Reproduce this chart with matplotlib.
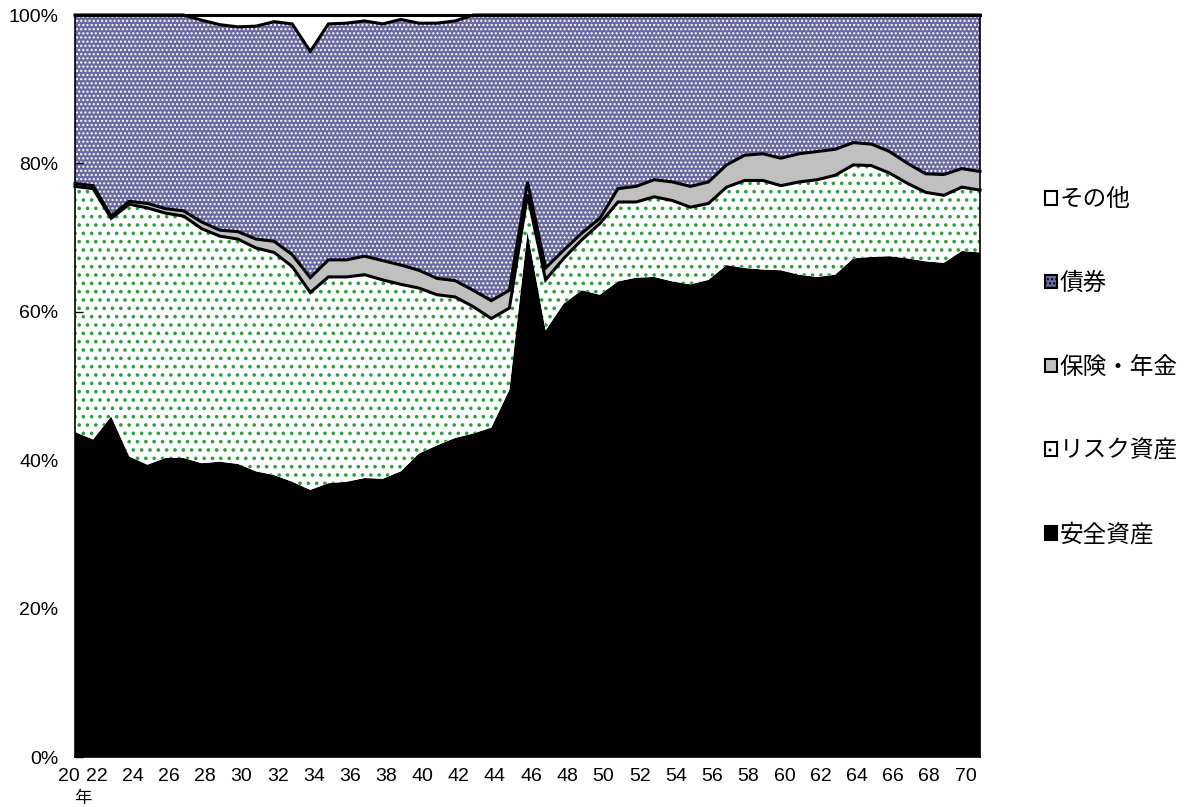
import numpy as np
import matplotlib
matplotlib.use("Agg")
import matplotlib.pyplot as plt
import matplotlib.transforms as mtransforms
from matplotlib.patches import Patch

plt.rcParams['font.family'] = ['Liberation Sans', 'Noto Sans CJK JP', 'DejaVu Sans']
plt.rcParams['hatch.linewidth'] = 1.0

# Years (20 = 1920 ... 70 = 1970)
years = list(range(20, 71))

# Composition of household financial assets (%), bottom to top
safe_assets = [43.8, 42.8, 45.9, 40.5, 39.4, 40.3, 40.3, 39.6, 39.8, 39.5,
               38.5, 38.0, 37.1, 36.0, 36.9, 37.1, 37.6, 37.5, 38.5, 40.9,
               42.0, 43.0, 43.6, 44.4, 49.5, 70.8, 57.5, 61.1, 62.9, 62.3,
               64.1, 64.6, 64.7, 64.1, 63.7, 64.3, 66.3, 65.9, 65.7, 65.6,
               65.0, 64.7, 65.0, 67.2, 67.4, 67.5, 67.2, 66.8, 66.6, 68.2,
               68.0]
risk_assets = [33.1, 33.8, 26.7, 34.0, 34.6, 33.0, 32.6, 31.6, 30.4, 30.3,
               30.1, 30.0, 29.0, 26.6, 27.8, 27.6, 27.4, 26.8, 25.2, 22.3,
               20.3, 19.0, 17.1, 14.7, 11.0, 5.0, 6.8, 6.1, 6.8, 9.6,
               10.7, 10.2, 10.8, 10.9, 10.4, 10.3, 10.5, 11.8, 12.0, 11.4,
               12.5, 13.1, 13.4, 12.6, 12.3, 11.2, 10.1, 9.3, 9.1, 8.6,
               8.4]
insurance_pension = [0.4, 0.4, 0.3, 0.4, 0.6, 0.6, 0.7, 0.9, 0.8, 1.0,
                     1.2, 1.5, 1.6, 2.0, 2.3, 2.3, 2.5, 2.6, 2.6, 2.4,
                     2.2, 2.2, 2.2, 2.4, 2.4, 1.7, 1.6, 1.1, 0.9, 0.7,
                     1.8, 2.1, 2.3, 2.5, 2.8, 2.9, 3.0, 3.4, 3.6, 3.7,
                     3.8, 3.8, 3.5, 3.0, 2.9, 2.9, 2.7, 2.5, 2.8, 2.5,
                     2.5]
bonds = [22.7, 23.0, 27.1, 25.1, 25.4, 26.1, 26.4, 27.2, 27.7, 27.6,
         28.7, 29.6, 31.1, 30.5, 31.8, 31.9, 31.7, 31.9, 33.1, 33.3,
         34.4, 35.0, 37.1, 38.5, 37.1, 22.5, 34.1, 31.7, 29.4, 27.4,
         23.4, 23.1, 22.2, 22.5, 23.1, 22.5, 20.2, 18.9, 18.7, 19.3,
         18.7, 18.4, 18.1, 17.2, 17.4, 18.4, 20.0, 21.4, 21.5, 20.7,
         21.1]
others = [0.0, 0.0, 0.0, 0.0, 0.0, 0.0, 0.0, 0.7, 1.3, 1.6,
          1.5, 0.9, 1.2, 4.9, 1.2, 1.1, 0.8, 1.2, 0.6, 1.1,
          1.1, 0.8, 0.0, 0.0, 0.0, 0.0, 0.0, 0.0, 0.0, 0.0,
          0.0, 0.0, 0.0, 0.0, 0.0, 0.0, 0.0, 0.0, 0.0, 0.0,
          0.0, 0.0, 0.0, 0.0, 0.0, 0.0, 0.0, 0.0, 0.0, 0.0,
          0.0]

series_names = ['安全資産', 'リスク資産', '保険・年金', '債券', 'その他']
series_values = [safe_assets, risk_assets, insurance_pension, bonds, others]
face_colors = ['black', 'white', '#C0C0C0', '#6A6AA0', 'white']
hatch_colors = ['black', '#2E9E3E', '#C0C0C0', 'white', 'white']
hatches = [None, '..', None, '....', None]
hatch_widths = [1.0, 1.4, 1.0, 1.0, 1.0]

x = np.array(years, dtype=float)
tops = np.cumsum(np.array(series_values, dtype=float), axis=0)
bottoms = np.vstack([np.zeros_like(x), tops[:-1]])

fig = plt.figure(figsize=(11.97, 8.07), dpi=100)
ax = fig.add_axes([75 / 1197, 1 - 757 / 807, 905 / 1197, 742 / 807])

for i in range(len(series_names)):
    poly_x = np.concatenate([x, x[::-1]])
    poly_y = np.concatenate([tops[i], bottoms[i][::-1]])
    plt.rcParams['hatch.linewidth'] = hatch_widths[i]
    patches = ax.fill(poly_x, poly_y, facecolor=face_colors[i],
                      edgecolor=hatch_colors[i], hatch=hatches[i],
                      linewidth=0, zorder=1 + i * 0.1)
    for p in patches:
        if hasattr(p, 'set_hatch_linewidth'):
            p.set_hatch_linewidth(hatch_widths[i])
plt.rcParams['hatch.linewidth'] = 1.0

# Black borders along the stacked boundaries
for i in range(1, len(series_names)):
    ax.plot(x, tops[i], color='black', linewidth=2.2, zorder=3,
            solid_joinstyle='miter', clip_on=False)

ax.set_xlim(20, 70)
ax.set_ylim(0, 100)

ax.set_yticks(range(0, 101, 20))
ax.set_yticklabels([f'{v}%' for v in range(0, 101, 20)])
ax.tick_params(axis='y', direction='in', length=6, width=1, pad=12,
               labelsize=14, colors='black')

xt = list(range(20, 71, 2))
ax.set_xticks(xt)
ax.set_xticklabels([str(v) for v in xt])
ax.tick_params(axis='x', length=0, pad=8, labelsize=14)
for k, lab in enumerate(ax.get_xticklabels()):
    dx = -6.0 if k == 0 else -14.5
    shift = mtransforms.ScaledTranslation(dx / 100, 0, fig.dpi_scale_trans)
    lab.set_transform(lab.get_transform() + shift)

fig.text(83 / 1197, 1 - 798 / 807, '年', ha='center', va='center',
         fontsize=12.5)

for side in ['left', 'right', 'top', 'bottom']:
    ax.spines[side].set_color('black')
    ax.spines[side].set_linewidth(1.2)
    ax.spines[side].set_zorder(4)

handles = []
for i in reversed(range(len(series_names))):
    handles.append(Patch(facecolor=face_colors[i],
                         edgecolor='black' if hatches[i] is None else hatch_colors[i],
                         hatch=hatches[i], linewidth=1.5,
                         label=series_names[i]))
leg = fig.legend(handles=handles, loc='center left',
                 bbox_to_anchor=(1036 / 1197, 1 - 368 / 807),
                 frameon=False, fontsize=17, handlelength=0.5,
                 handleheight=0.5, handletextpad=0.1, labelspacing=2.6,
                 borderaxespad=0)
for h in leg.legend_handles:
    h.set_edgecolor('black')

fig.savefig('out.png', dpi=100, facecolor='white')
